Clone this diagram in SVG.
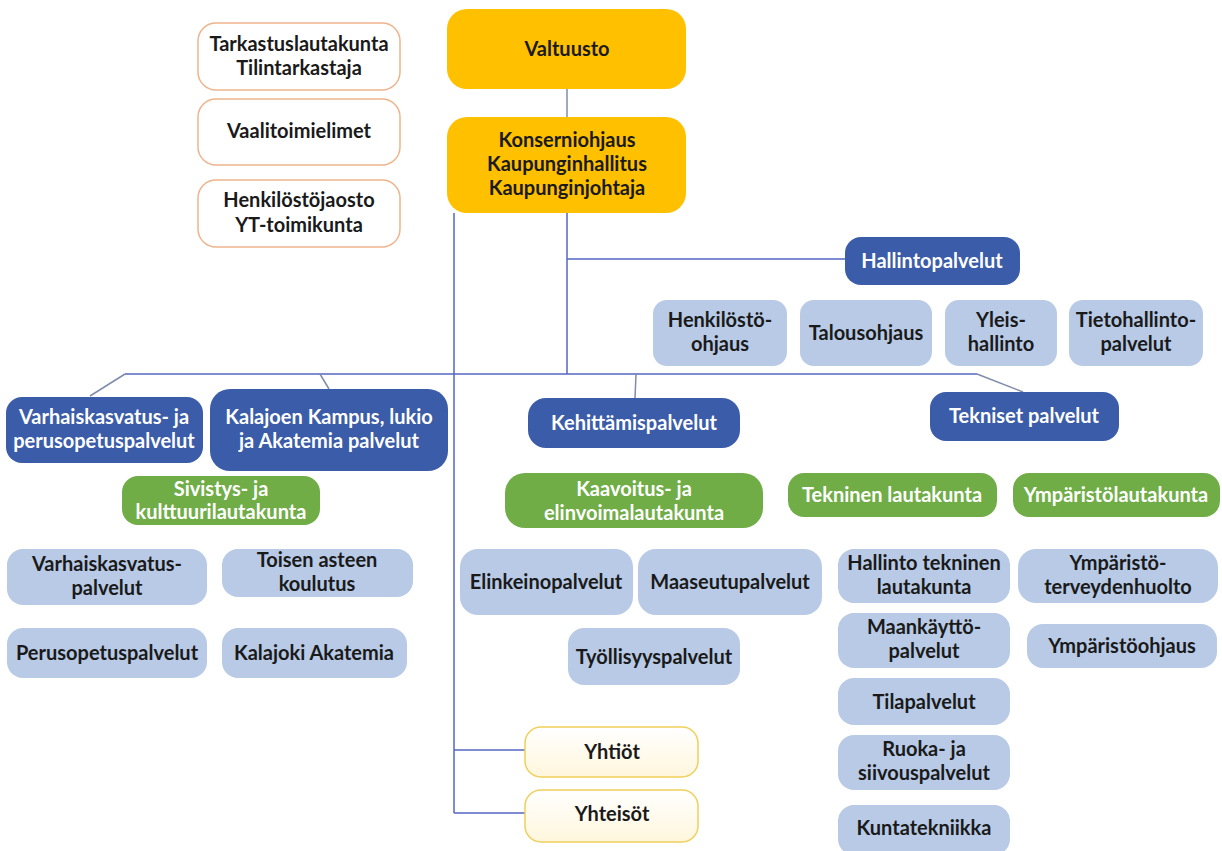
<svg xmlns="http://www.w3.org/2000/svg" width="1222" height="851" viewBox="0 0 1222 851">
<defs>
<linearGradient id="cream" x1="0" y1="0" x2="0" y2="1">
<stop offset="0" stop-color="#ffffff"/>
<stop offset="1" stop-color="#fff6dc"/>
</linearGradient>
<style>
text{font-family:Lato,"Liberation Sans",sans-serif;font-weight:bold;font-size:20px;text-anchor:middle}
.gold rect{fill:#ffc000;stroke:none}
.gold text{fill:#1a1a1a}
.outline rect{fill:#ffffff;stroke:#eeb48c;stroke-width:1.5}
.outline text{fill:#1a1a1a}
.dark rect{fill:#3a5ca9;stroke:none}
.dark text{fill:#ffffff}
.green rect{fill:#70ad47;stroke:none}
.green text{fill:#ffffff}
.light rect{fill:#b8cae6;stroke:none}
.light text{fill:#1a1a1a}
.company rect{fill:url(#cream);stroke:#f0cf5a;stroke-width:1.5}
.company text{fill:#1a1a1a}
.conn line,.conn polyline{stroke:#5566c4;stroke-width:1.5;fill:none}
.conn .gray{stroke:#7f8caa}
</style>
</defs>
<rect width="1222" height="851" fill="#ffffff"/>

<g id="connectors" class="conn">
<line x1="567" y1="89" x2="567" y2="117" class="gray"/>
<line x1="567" y1="213" x2="567" y2="374"/>
<line x1="567" y1="259" x2="845" y2="259"/>
<line x1="454" y1="213" x2="454" y2="813"/>
<line x1="125" y1="374" x2="977" y2="374"/>
<line x1="125" y1="374" x2="90" y2="396" class="gray"/>
<line x1="320" y1="374" x2="329" y2="389" class="gray"/>
<line x1="636" y1="374" x2="635" y2="398" class="gray"/>
<line x1="977" y1="374" x2="1023" y2="392" class="gray"/>
<line x1="454" y1="750" x2="525" y2="750"/>
<line x1="454" y1="813" x2="525" y2="813"/>
</g>

<g id="valtuusto" class="gold"><rect x="447" y="9" width="239" height="80" rx="20"/><text x="567" y="56">Valtuusto</text></g>
<g id="konserni" class="gold"><rect x="447" y="117" width="239" height="96" rx="20"/><text x="567" y="147">Konserniohjaus</text><text x="567" y="171">Kaupunginhallitus</text><text x="567" y="195">Kaupunginjohtaja</text></g>

<g id="tarkastus" class="outline"><rect x="198" y="23" width="202" height="67" rx="18"/><text x="299" y="51">Tarkastuslautakunta</text><text x="299" y="75">Tilintarkastaja</text></g>
<g id="vaali" class="outline"><rect x="198" y="99" width="202" height="66" rx="18"/><text x="299" y="138">Vaalitoimielimet</text></g>
<g id="henkilostojaosto" class="outline"><rect x="198" y="180" width="202" height="67" rx="18"/><text x="299" y="207">Henkilöstöjaosto</text><text x="299" y="232">YT-toimikunta</text></g>

<g id="hallintopalvelut" class="dark"><rect x="845" y="237" width="175" height="48" rx="16"/><text x="932" y="268">Hallintopalvelut</text></g>
<g id="henkilostoohjaus" class="light"><rect x="653" y="300" width="134" height="66" rx="14"/><text x="720" y="327">Henkilöstö-</text><text x="720" y="351">ohjaus</text></g>
<g id="talousohjaus" class="light"><rect x="800" y="300" width="132" height="66" rx="14"/><text x="866" y="340">Talousohjaus</text></g>
<g id="yleishallinto" class="light"><rect x="945" y="300" width="112" height="66" rx="14"/><text x="1001" y="327">Yleis-</text><text x="1001" y="351">hallinto</text></g>
<g id="tietohallinto" class="light"><rect x="1069" y="300" width="134" height="66" rx="14"/><text x="1136" y="327">Tietohallinto-</text><text x="1136" y="351">palvelut</text></g>

<g id="varhaisperus" class="dark"><rect x="6" y="397" width="197" height="66" rx="16"/><text x="104" y="424">Varhaiskasvatus- ja</text><text x="104" y="448">perusopetuspalvelut</text></g>
<g id="kampus" class="dark"><rect x="210" y="389" width="238" height="82" rx="20"/><text x="329" y="424">Kalajoen Kampus, lukio</text><text x="329" y="448">ja Akatemia palvelut</text></g>
<g id="kehittamis" class="dark"><rect x="528" y="398" width="212" height="50" rx="18"/><text x="634" y="430">Kehittämispalvelut</text></g>
<g id="tekniset" class="dark"><rect x="930" y="392" width="189" height="49" rx="16"/><text x="1024" y="423">Tekniset palvelut</text></g>

<g id="sivistys" class="green"><rect x="122" y="476" width="198" height="49" rx="16"/><text x="221" y="496">Sivistys- ja</text><text x="221" y="519">kulttuurilautakunta</text></g>
<g id="kaavoitus" class="green"><rect x="505" y="473" width="258" height="55" rx="20"/><text x="634" y="496">Kaavoitus- ja</text><text x="634" y="520">elinvoimalautakunta</text></g>
<g id="tekninenlautakunta" class="green"><rect x="788" y="473" width="209" height="44" rx="16"/><text x="892" y="502">Tekninen lautakunta</text></g>
<g id="ymparistolautakunta" class="green"><rect x="1013" y="473" width="207" height="44" rx="16"/><text x="1116" y="502">Ympäristölautakunta</text></g>

<g id="varhaiskasvatuspalvelut" class="light"><rect x="7" y="549" width="200" height="56" rx="16"/><text x="107" y="571">Varhaiskasvatus-</text><text x="107" y="595">palvelut</text></g>
<g id="toisenasteen" class="light"><rect x="222" y="549" width="191" height="48" rx="16"/><text x="317" y="567">Toisen asteen</text><text x="317" y="591">koulutus</text></g>
<g id="perusopetus" class="light"><rect x="7" y="628" width="200" height="50" rx="16"/><text x="107" y="660">Perusopetuspalvelut</text></g>
<g id="akatemia" class="light"><rect x="222" y="628" width="185" height="50" rx="16"/><text x="314" y="660">Kalajoki Akatemia</text></g>

<g id="elinkeino" class="light"><rect x="460" y="549" width="173" height="66" rx="18"/><text x="546" y="589">Elinkeinopalvelut</text></g>
<g id="maaseutu" class="light"><rect x="638" y="549" width="184" height="66" rx="18"/><text x="730" y="589">Maaseutupalvelut</text></g>
<g id="tyollisyys" class="light"><rect x="568" y="628" width="172" height="57" rx="16"/><text x="654" y="664">Työllisyyspalvelut</text></g>

<g id="yhtiot" class="company"><rect x="525" y="727" width="173" height="50" rx="16"/><text x="612" y="759">Yhtiöt</text></g>
<g id="yhteisot" class="company"><rect x="525" y="790" width="173" height="52" rx="16"/><text x="612" y="821">Yhteisöt</text></g>

<g id="hallintotekninen" class="light"><rect x="838" y="549" width="172" height="54" rx="16"/><text x="924" y="570">Hallinto tekninen</text><text x="924" y="594">lautakunta</text></g>
<g id="maankaytto" class="light"><rect x="838" y="613" width="172" height="55" rx="16"/><text x="924" y="634">Maankäyttö-</text><text x="924" y="658">palvelut</text></g>
<g id="tilapalvelut" class="light"><rect x="838" y="678" width="172" height="47" rx="16"/><text x="924" y="709">Tilapalvelut</text></g>
<g id="ruoka" class="light"><rect x="838" y="735" width="172" height="55" rx="16"/><text x="924" y="756">Ruoka- ja</text><text x="924" y="780">siivouspalvelut</text></g>
<g id="kuntatekniikka" class="light"><rect x="838" y="805" width="172" height="50" rx="16"/><text x="924" y="835">Kuntatekniikka</text></g>

<g id="ymparistoterveys" class="light"><rect x="1018" y="549" width="200" height="54" rx="18"/><text x="1118" y="570">Ympäristö-</text><text x="1118" y="594">terveydenhuolto</text></g>
<g id="ymparistoohjaus" class="light"><rect x="1027" y="624" width="190" height="44" rx="16"/><text x="1122" y="653">Ympäristöohjaus</text></g>
</svg>
